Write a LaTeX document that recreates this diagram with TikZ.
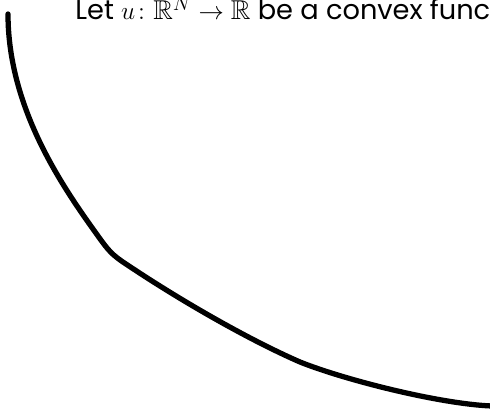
\documentclass[tikz,border=0pt]{standalone}
\usepackage{amsmath,amssymb}
\usepackage{fontspec}
\setmainfont{Poppins}
\usetikzlibrary{positioning}

\begin{document}
\begin{tikzpicture}[x=0.02cm,y=-0.02cm,curve/.style={line width=3pt,line cap=round,line join=round}]
\useasboundingbox (0,0) rectangle (490,412);
\clip (0,0) rectangle (490,412);
\coordinate (top) at (8,14);
\coordinate (bend) at (98,236);
\coordinate (knee) at (126,264);
\coordinate (mid) at (300,362);
\coordinate (tail) at (492,406);
\draw[curve] (top) .. controls (8,110) and (65,190) .. (bend)
  .. controls (108,250) and (112,255) .. (knee)
  .. controls (175,297) and (245,338) .. (mid)
  .. controls (345,380) and (440,404) .. (tail);
\node[anchor=base west,inner sep=0pt,font=\fontsize{15.5}{18}\selectfont] (title) at (75,20)
{Let $u\colon \mathbb{R}^N \to \mathbb{R}$ be a convex function};
\end{tikzpicture}
\end{document}
